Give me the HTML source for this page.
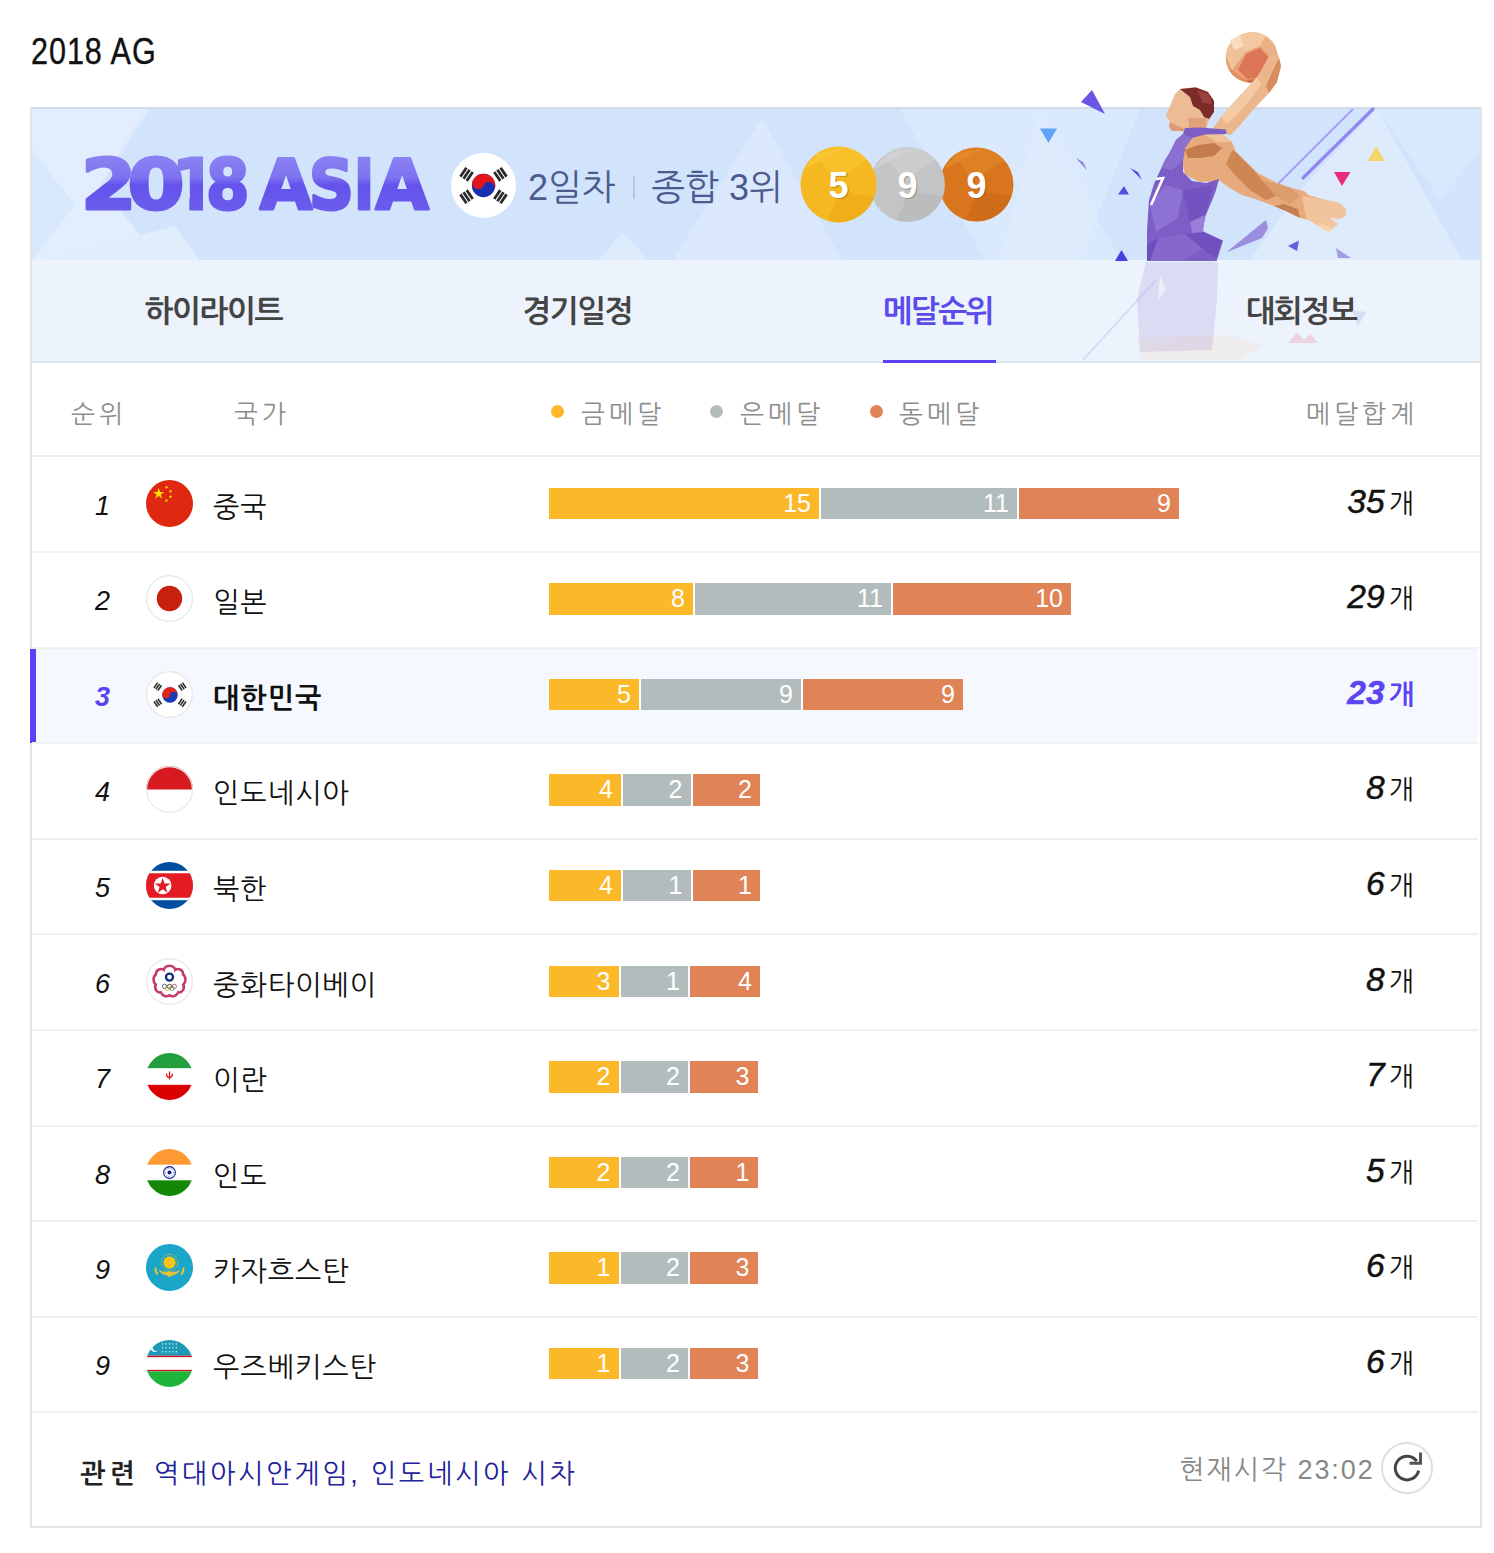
<!DOCTYPE html>
<html lang="ko"><head><meta charset="utf-8"><title>2018 AG</title>
<style>
*{margin:0;padding:0;box-sizing:border-box}
html,body{width:1494px;height:1553px;background:#fff;overflow:hidden}
body{position:relative;font-family:"Liberation Sans","NanumGothic","Noto Sans CJK KR",sans-serif;color:#000}
.abs{position:absolute}
#title{left:30.5px;top:29.5px;font-size:36px;line-height:44px;letter-spacing:1.1px;transform:scaleX(0.85);transform-origin:0 0;color:#111;-webkit-text-stroke:0.35px #111;font-family:"Liberation Sans",sans-serif}
#box{left:30px;top:107px;width:1452px;height:1421px;border:2px solid #e3e3e3;background:#fff}
#banner{left:32px;top:107px;width:1448px;height:153px;background:#d1e4fc;overflow:hidden;border-top:2px solid #cfdcec}
#tabs{left:32px;top:260px;width:1448px;height:103px;background:#edf3fc;border-bottom:2px solid #dfe5ee}
.tab{position:absolute;z-index:5;top:0;height:101px;line-height:104px;width:362px;text-align:center;font-family:"Liberation Sans","NanumGothic","Noto Sans CJK KR",sans-serif;font-weight:700;font-size:31px;color:#444;letter-spacing:-1.6px}
.tab.on{color:#5a4bea}
.tab.on:after{content:"";position:absolute;left:125.5px;width:113px;bottom:-2px;height:3.5px;background:#5a40f5}
.th{position:absolute;top:368px;height:93px;line-height:93px;font-family:"Liberation Sans","NanumGothic","Noto Sans CJK KR",sans-serif;font-size:25.5px;color:#8e8e8e;letter-spacing:4px}
.dot{display:block;width:13px;height:13px;border-radius:50%;top:405px}
#hline{left:32px;top:455px;width:1448px;height:2px;background:#ececec}
.row{position:absolute;left:32px;width:1446px;height:95.6px}
.row:after{content:"";position:absolute;z-index:1;left:0;right:0;bottom:-1px;height:2px;background:#f0f0f0}
.rk{position:absolute;left:0;width:78px;text-align:right;top:3px;height:93px;line-height:93px;font-family:"Liberation Sans",sans-serif;font-style:italic;font-size:27px;color:#111}
.flag{position:absolute;left:114px;top:23px;width:47px;height:47px}
.nm{position:absolute;left:181px;top:4px;height:93px;line-height:93px;font-family:"Liberation Sans","NanumGothic","Noto Sans CJK KR",sans-serif;font-size:28px;color:#111;letter-spacing:1px}
.bars{position:absolute;left:517px;top:31px;height:31.5px;display:flex}
.bars span{display:block;height:31.5px;text-align:right;padding-right:8px;font-family:"Liberation Sans",sans-serif;font-size:25px;line-height:31.5px;color:#fff}
.g{background:#fbb829}
.s{background:#b3bcbc;border-left:2px solid #fff}
.b{background:#e08458;border-left:2px solid #fff}
.tot{position:absolute;right:64px;top:-2px;height:93px;line-height:93px;font-size:33.5px;font-style:italic;font-family:"Liberation Sans",sans-serif;color:#111;-webkit-text-stroke:0.5px currentColor}
.tot i{-webkit-text-stroke:0}
.tot i{font-style:normal;font-size:27px;font-family:"Liberation Sans","NanumGothic","Noto Sans CJK KR",sans-serif;margin-left:4px}
.row.me{background:#f5f8fe}
.row.me .rk,.row.me .tot{color:#5a46f0;font-weight:700}
.row.me .nm{font-weight:700}
#mebar{left:30px;top:648.5px;width:5.5px;height:94px;background:#5a43f5}

#day{left:528px;top:163px;font-family:"Liberation Sans","NanumGothic","Noto Sans CJK KR",sans-serif;font-size:36px;line-height:50px;color:#4b5b8e;letter-spacing:0px}
#day .sep{display:inline-block;width:2.5px;height:23px;background:#b9c8dc;margin:0 16px 0 17px;vertical-align:middle;position:relative;top:-3px}
#foot{left:32px;top:1414px;width:1448px;height:112px;font-family:"Liberation Sans","NanumGothic","Noto Sans CJK KR",sans-serif}
#foot .rel{position:absolute;left:48px;top:4px;line-height:112px;font-size:27px;color:#22229a;letter-spacing:2.7px}
#foot .rel b{color:#222;margin-right:15px;letter-spacing:4px}
#foot .now{position:absolute;left:1147px;top:0;line-height:112px;font-size:27px;color:#888;letter-spacing:1.9px}
#foot .refresh{position:absolute;left:1349px;top:28px;width:52px;height:52px}
</style></head><body>
<div id="title" class="abs">2018 AG</div>
<div id="box" class="abs"></div>
<div id="banner" class="abs"></div>
<svg id="bgsvg" class="abs" style="left:0;top:0" width="1494" height="370" viewBox="0 0 1494 370">
<defs><clipPath id="bclip"><rect x="32" y="109" width="1448" height="151"/></clipPath>
<clipPath id="tclip"><rect x="32" y="260" width="1448" height="101"/></clipPath></defs>
<g clip-path="url(#bclip)">
<polygon points="32,109 150,109 100,185 160,260 32,260" fill="#e2eefd"/>
<polygon points="32,150 75,205 32,260" fill="#d8e8fc"/>
<polygon points="100,185 145,109 150,109 118,160" fill="#dbeafd"/>
<polygon points="46,260 175,226 200,260" fill="#e0edfd"/>
<polygon points="673,260 762,118 842,260" fill="#dce9fc"/>
<polygon points="598,260 623,232 648,260" fill="#deebfd"/>
<polygon points="900,109 1040,109 1120,260 985,260" fill="#dae9fc"/>
<polygon points="1040,109 1140,109 1080,260 1000,260" fill="#deebfd" opacity="0.7"/>
<polygon points="1377,109 1462,260 1250,260 1300,190" fill="#ddebfd"/>
<polygon points="1377,109 1480,109 1480,150 1440,200" fill="#d8e8fd"/>
<polygon points="1480,150 1480,260 1462,260 1440,200" fill="#d3e5fc"/>
</g>

</svg>
<svg id="logo" class="abs" style="left:0;top:0" width="460" height="240" viewBox="0 0 460 240"><defs><linearGradient id="lg" x1="0" y1="-55" x2="0" y2="1" gradientUnits="userSpaceOnUse"><stop offset="0" stop-color="#8c84f2"/><stop offset="0.42" stop-color="#7d72f0"/><stop offset="0.55" stop-color="#6453ec"/><stop offset="1" stop-color="#6b5cec"/></linearGradient><clipPath id="c1"><polygon points="176,150 203,150 203,215 189.4,215 189.4,188 176,188"/></clipPath></defs><g font-weight="700" fill="url(#lg)" stroke="url(#lg)" stroke-width="3.0" stroke-linejoin="round"><text transform="translate(80.93,209.00) scale(1.138,1)" font-family="DejaVu Sans, sans-serif" font-size="70">2</text><text transform="translate(127.62,209.00) scale(1.171,1)" font-family="DejaVu Sans, sans-serif" font-size="70">0</text><g clip-path="url(#c1)"><text transform="translate(171.50,209.00)" font-family="DejaVu Sans, sans-serif" font-size="70">1</text></g><text transform="translate(206.06,209.00) scale(0.892,1)" font-family="DejaVu Sans, sans-serif" font-size="70">8</text><text transform="translate(259.80,209.00) scale(0.970,1)" font-family="DejaVu Sans, sans-serif" font-size="70">A</text><text transform="translate(308.81,209.00) scale(0.897,1)" font-family="DejaVu Sans, sans-serif" font-size="70">S</text><text transform="translate(354.12,209.00) scale(0.774,1)" font-family="DejaVu Sans, sans-serif" font-size="70">I</text><text transform="translate(375.50,209.00) scale(0.983,1)" font-family="DejaVu Sans, sans-serif" font-size="70">A</text></g></svg>
<svg class="abs" style="left:451px;top:153px" width="65" height="65" viewBox="0 0 48 48"><circle cx="24" cy="24" r="24" fill="#fff"/><circle cx="24" cy="24" r="8.6" fill="#1a2fb0"/><path d="M16,20.5 A8.6,8.6 0 0 1 32,27.5 A4.3,4.3 0 0 0 24,24 A4.3,4.3 0 0 1 16,20.5Z" fill="#e0161c"/><g transform="translate(11.5,15.7) rotate(-56)"><rect x="-4.0" y="-3.8" width="8" height="2" fill="#2a2a2a"/><rect x="-4.0" y="-1.0" width="8" height="2" fill="#2a2a2a"/><rect x="-4.0" y="1.7999999999999998" width="8" height="2" fill="#2a2a2a"/></g><g transform="translate(36.5,15.7) rotate(56)"><rect x="-4.0" y="-3.8" width="8" height="2" fill="#2a2a2a"/><rect x="-4.0" y="-1.0" width="8" height="2" fill="#2a2a2a"/><rect x="-4.0" y="1.7999999999999998" width="8" height="2" fill="#2a2a2a"/></g><g transform="translate(11.5,32.3) rotate(56)"><rect x="-4.0" y="-3.8" width="8" height="2" fill="#2a2a2a"/><rect x="-4.0" y="-1.0" width="8" height="2" fill="#2a2a2a"/><rect x="-4.0" y="1.7999999999999998" width="8" height="2" fill="#2a2a2a"/></g><g transform="translate(36.5,32.3) rotate(-56)"><rect x="-4.0" y="-3.8" width="8" height="2" fill="#2a2a2a"/><rect x="-4.0" y="-1.0" width="8" height="2" fill="#2a2a2a"/><rect x="-4.0" y="1.7999999999999998" width="8" height="2" fill="#2a2a2a"/></g></svg>
<div id="day" class="abs">2일차<span class="sep"></span>종합 3위</div>
<svg class="abs" style="left:795px;top:141px" width="225" height="88" viewBox="795 141 225 88">
<g><circle cx="976.5" cy="184.5" r="37" fill="#d9761d"/><path d="M943.2,169.7 L983.9,148.24 L956.15,153.79 Z" fill="#e48a2c" opacity="0.8"/><path d="M954.3,154.9 A37,37 0 0 1 1004.25,160.07999999999998 L972.8,180.8 Z" fill="#e48a2c" opacity="0.5"/><path d="M1011.65,195.6 A37,37 0 0 1 965.4,219.65 L978.35,191.9 Z" fill="#c7661a" opacity="0.55"/><text x="977.5" y="198.5" text-anchor="middle" font-family="Liberation Sans, sans-serif" font-weight="700" font-size="36" fill="#5a3a10" opacity="0.35">9</text><text x="976.5" y="197.5" text-anchor="middle" font-family="Liberation Sans, sans-serif" font-weight="700" font-size="36" fill="#fff">9</text></g><g><circle cx="907.5" cy="184.5" r="37.5" fill="#c3c4c6"/><path d="M873.75,169.5 L915.0,147.75 L886.875,153.375 Z" fill="#d2d3d5" opacity="0.8"/><path d="M885.0,154.5 A37.5,37.5 0 0 1 935.625,159.75 L903.75,180.75 Z" fill="#d2d3d5" opacity="0.5"/><path d="M943.125,195.75 A37.5,37.5 0 0 1 896.25,220.125 L909.375,192.0 Z" fill="#b5b6b8" opacity="0.55"/><text x="908.5" y="198.5" text-anchor="middle" font-family="Liberation Sans, sans-serif" font-weight="700" font-size="36" fill="#5a3a10" opacity="0.35">9</text><text x="907.5" y="197.5" text-anchor="middle" font-family="Liberation Sans, sans-serif" font-weight="700" font-size="36" fill="#fff">9</text></g><g><circle cx="838.5" cy="184.5" r="38" fill="#f5b820"/><path d="M804.3,169.3 L846.1,147.26 L817.6,152.96 Z" fill="#fbc836" opacity="0.8"/><path d="M815.7,154.1 A38,38 0 0 1 867.0,159.42 L834.7,180.7 Z" fill="#fbc836" opacity="0.5"/><path d="M874.6,195.9 A38,38 0 0 1 827.1,220.6 L840.4,192.1 Z" fill="#eba815" opacity="0.55"/><text x="839.5" y="198.5" text-anchor="middle" font-family="Liberation Sans, sans-serif" font-weight="700" font-size="36" fill="#5a3a10" opacity="0.35">5</text><text x="838.5" y="197.5" text-anchor="middle" font-family="Liberation Sans, sans-serif" font-weight="700" font-size="36" fill="#fff">5</text></g>
</svg>

<div id="tabs" class="abs">
 <div class="tab" style="left:0">하이라이트</div>
 <div class="tab" style="left:364px">경기일정</div>
 <div class="tab on" style="left:725px">메달순위</div>
 <div class="tab" style="left:1088px">대회정보</div>
</div>
<svg id="player" class="abs" style="left:0;top:0" width="1494" height="370" viewBox="0 0 1494 370">

<g clip-path="url(#tclip)">
 <polygon points="1146,262 1218,262 1217,300 1213,340 1212,350 1140,352 1137,300" fill="#7c68d0" opacity="0.17"/>
 <polygon points="1160,275 1166,290 1158,300" fill="#fff" opacity="0.5"/>
 <polygon points="1137,338 1230,335 1262,346 1240,360 1140,360" fill="#f0c8a0" opacity="0.16"/>
 <polygon points="1288,343 1297,332 1304,340 1310,334 1318,343" fill="#f07090" opacity="0.25"/>
 <polygon points="1352,310 1366,312 1358,326" fill="#a098e0" opacity="0.25"/>
 <line x1="1083" y1="360" x2="1156" y2="280" stroke="#b0a8f0" stroke-width="2" opacity="0.3"/>
</g>
<!-- lines -->
<line x1="1353" y1="109" x2="1270" y2="192" stroke="#a89cf4" stroke-width="2"/>
<line x1="1373" y1="109" x2="1303" y2="178" stroke="#9385f2" stroke-width="3.2" stroke-linecap="round"/>
<!-- triangles -->
<polygon points="1081,102 1092,90 1105,114" fill="#6a55e6"/>
<polygon points="1040,128.5 1057,128.5 1048.5,143" fill="#5ea6f5"/>
<polygon points="1367.5,161 1385,161 1376,146.5" fill="#f3d66a"/>
<polygon points="1334,172 1350.5,172 1342,186" fill="#ef2a78"/>
<polygon points="1076,158 1087,170.5 1083,162" fill="#8c86d8"/>
<polygon points="1130,168 1142,180 1138,172" fill="#5a4be0"/>
<polygon points="1118,194.5 1129,194.5 1124,186" fill="#5a4be0"/>
<polygon points="1115,261 1128,261 1121.5,250" fill="#4a3ee0"/>
<polygon points="1288,246 1299,240.5 1297,251" fill="#6a5ae0"/>
<polygon points="1336,248 1351,258 1338,258" fill="#a59ce6"/>
<polygon points="1226,252.5 1266,220 1268,228 1262,238" fill="#9b8ddf"/>
<!-- ball -->
<g>
 <ellipse cx="1251.7" cy="57.7" rx="26" ry="25.2" fill="#e9a274"/>
 <path d="M1226,56 A26,25.2 0 0 1 1240,35 L1246,52 L1232,70 Z" fill="#efc29a"/>
 <path d="M1240,35 A26,25.2 0 0 1 1266,36 L1260,46 L1246,52 Z" fill="#f3c7a2"/>
 <path d="M1230,40 L1240,35 L1244,46 L1234,50 Z" fill="#f8dcc0"/>
 <path d="M1246,54 L1260,48 L1271,60 L1263,77 L1247,79 L1238,70 Z" fill="#dc7656"/>
 <path d="M1266,36 A26,25.2 0 0 1 1277.5,56 L1272,58 L1260,46 Z" fill="#eab086"/>
 <path d="M1232,70 L1246,80 L1250,82.8 A26,25.2 0 0 1 1228,68 Z" fill="#e09060"/>
 <path d="M1246,80 L1264,78 A26,25.2 0 0 1 1250,82.8 Z" fill="#cf6848"/>
</g>
<!-- raised arm -->
<polygon points="1211,131 1221,117 1235,101 1249,86 1257,77 1263,67 1269,56 1278,54 1281,66 1277,82 1269,93 1253,110 1241,124 1231,135" fill="#ebb68c"/>
<polygon points="1221,117 1235,101 1249,86 1257,77 1261,84 1250,100 1238,114 1226,124" fill="#f4caa4"/>
<polygon points="1269,93 1277,82 1281,66 1279,58 1273,70 1266,86" fill="#d68e60"/>
<!-- head -->
<polygon points="1175,94 1180,89 1195,87 1208,92 1214,101 1214,112 1209,120 1206,130 1188,132 1172,130 1169,127 1170,122 1166,116 1167,112 1170,106" fill="#edbb96"/>
<polygon points="1180,89 1196,87.5 1208,92 1214,101 1214,112 1209,119 1204,117 1200,110 1193,106 1190,97 1185,93" fill="#7c2b2b"/>
<polygon points="1197,90 1209,94 1212,104 1203,103" fill="#9b403e"/>
<polygon points="1170,122 1178,126 1190,131 1172,131 1169,127" fill="#d99a74"/>
<polygon points="1188,118 1206,118 1206,130 1190,132" fill="#dfa27a"/>
<!-- extended arm + shoulder -->
<polygon points="1183,136 1205,133 1222,134 1232,142 1236,152 1248,164 1258,173 1275,182 1290,187.5 1302,190.5 1305,191.5 1308,195 1322,199 1338,203 1340,210 1330,217 1320,222 1300,218 1288,212 1274,206 1255,199 1242,195 1228,187 1220,181 1200,182 1185,175 1182,160" fill="#e6aa7c"/>
<polygon points="1185,150 1198,145 1214,143 1222,148 1214,156 1200,158 1188,158" fill="#c47c4c"/>
<polygon points="1232,150 1236,152 1250,166 1262,180 1276,196 1266,200 1250,190 1236,176 1226,164" fill="#cd8654"/>
<polygon points="1262,180 1290,188 1300,196 1290,204 1276,196" fill="#dc9c6c"/>
<polygon points="1274,206 1288,212 1300,218 1298,209 1284,204" fill="#c68050"/>
<polygon points="1302,196 1322,199 1340,203 1346,209 1346,216 1340,219 1330,218 1338,224 1331,230 1318,226 1306,218" fill="#f2c49c"/>
<polygon points="1318,222 1332,228 1330,232 1322,229" fill="#f8d2a8"/>
<polygon points="1204,134 1222,134 1232,142 1216,142" fill="#f0c29c"/>
<!-- jersey -->
<polygon points="1185,128 1200,127.5 1226,129.5 1226.5,134 1205,134.5 1192,138 1185,148 1183,160 1183,172 1192,181 1206,183 1219,179 1216,190 1213.5,197 1208,210 1205.5,216 1202.5,231 1223,240.5 1216.7,261 1147,261 1147,230 1149,200 1154,184 1159,173 1165,160 1170,152 1176,140 1183,134" fill="#7d5ec6"/>
<polygon points="1183,134 1192,138 1185,148 1183,160 1172,170 1162,168 1170,152 1176,140" fill="#8c70d0"/>
<polygon points="1150,205 1165,185 1183,190 1178,218 1156,232" fill="#8d71d3"/>
<polygon points="1183,190 1213,186 1205,215 1190,222" fill="#7253c0"/>
<polygon points="1190,222 1205,215 1203,232 1194,242" fill="#9a7ed9"/>
<polygon points="1158,238 1185,234 1203,249 1180,261 1150,261" fill="#8668cd"/>
<polygon points="1185,234 1203,232 1222,241 1216,258 1203,249" fill="#7050bf"/>
<polygon points="1147,245 1158,238 1150,261 1147,261" fill="#6c4fbd"/>
<polyline points="1156,179 1163,178 1151,205" fill="none" stroke="#fff" stroke-width="2.6"/>

</svg>
<div class="th" style="left:71px">순위</div>
<div class="th" style="left:234px">국가</div>
<span class="dot abs" style="left:551px;background:#fbb829"></span><div class="th" style="left:581px">금메달</div>
<span class="dot abs" style="left:710px;background:#b3bcbc"></span><div class="th" style="left:740px">은메달</div>
<span class="dot abs" style="left:870px;background:#e08458"></span><div class="th" style="left:899px">동메달</div>
<div class="th" style="left:1306px">메달합계</div>
<div id="hline" class="abs"></div>
<div id="rows"><svg width="0" height="0" style="position:absolute"><defs><clipPath id="cc"><circle cx="24" cy="24" r="24"/></clipPath></defs></svg><div class="row" style="top:456.5px"><div class="rk">1</div><svg class="flag" viewBox="0 0 48 48"><defs></defs><g clip-path="url(#cc)"><rect width="48" height="48" fill="#de2910"/><polygon points="13.00,8.00 14.35,12.15 18.71,12.15 15.18,14.71 16.53,18.85 13.00,16.29 9.47,18.85 10.82,14.71 7.29,12.15 11.65,12.15" fill="#ffde00"/><polygon points="22.00,5.77 21.70,7.19 22.96,7.92 21.51,8.07 21.21,9.49 20.62,8.16 19.17,8.31 20.25,7.34 19.66,6.01 20.92,6.74" fill="#ffde00"/><polygon points="26.53,10.21 25.76,11.45 26.70,12.56 25.29,12.21 24.52,13.44 24.41,11.99 23.00,11.64 24.35,11.10 24.25,9.65 25.18,10.76" fill="#ffde00"/><polygon points="25.00,15.00 25.45,16.38 26.90,16.38 25.73,17.24 26.18,18.62 25.00,17.76 23.82,18.62 24.27,17.24 23.10,16.38 24.55,16.38" fill="#ffde00"/><polygon points="21.68,19.12 21.63,20.57 23.00,21.07 21.60,21.47 21.55,22.92 20.74,21.72 19.34,22.12 20.24,20.97 19.42,19.77 20.79,20.27" fill="#ffde00"/></g></svg><div class="nm">중국</div><div class="bars"><span class="g" style="width:270.0px">15</span><span class="s" style="width:198.0px">11</span><span class="b" style="width:162.0px">9</span></div><div class="tot">35<i>개</i></div></div>
<div class="row" style="top:552.1px"><div class="rk">2</div><svg class="flag" viewBox="0 0 48 48"><defs></defs><g clip-path="url(#cc)"><rect width="48" height="48" fill="#fff"/><circle cx="24" cy="24" r="13" fill="#c8200e"/></g><circle cx="24" cy="24" r="23.4" fill="none" stroke="#e6e6e6" stroke-width="1.2"/></svg><div class="nm">일본</div><div class="bars"><span class="g" style="width:144.0px">8</span><span class="s" style="width:198.0px">11</span><span class="b" style="width:180.0px">10</span></div><div class="tot">29<i>개</i></div></div>
<div class="row me" style="top:647.7px"><div class="rk">3</div><svg class="flag" viewBox="0 0 48 48"><defs></defs><g clip-path="url(#cc)"><rect width="48" height="48" fill="#fff"/><circle cx="24.5" cy="24.5" r="7.9" fill="#1a3ab8"/><path d="M16.7,23 A7.9,7.9 0 0 1 32.3,26 A3.95,3.95 0 0 0 24.5,24.5 A3.95,3.95 0 0 1 16.7,23Z" fill="#e2231a"/><g transform="translate(12,16) rotate(-56)"><rect x="-3.3" y="-3.3" width="6.6" height="1.7" fill="#333"/><rect x="-3.3" y="-0.8999999999999999" width="6.6" height="1.7" fill="#333"/><rect x="-3.3" y="1.5" width="6.6" height="1.7" fill="#333"/></g><g transform="translate(37,16) rotate(56)"><rect x="-3.3" y="-3.3" width="6.6" height="1.7" fill="#333"/><rect x="-3.3" y="-0.8999999999999999" width="6.6" height="1.7" fill="#333"/><rect x="-3.3" y="1.5" width="6.6" height="1.7" fill="#333"/></g><g transform="translate(12,32.5) rotate(56)"><rect x="-3.3" y="-3.3" width="6.6" height="1.7" fill="#333"/><rect x="-3.3" y="-0.8999999999999999" width="6.6" height="1.7" fill="#333"/><rect x="-3.3" y="1.5" width="6.6" height="1.7" fill="#333"/></g><g transform="translate(37,32.5) rotate(-56)"><rect x="-3.3" y="-3.3" width="6.6" height="1.7" fill="#333"/><rect x="-3.3" y="-0.8999999999999999" width="6.6" height="1.7" fill="#333"/><rect x="-3.3" y="1.5" width="6.6" height="1.7" fill="#333"/></g></g><circle cx="24" cy="24" r="23.4" fill="none" stroke="#e6e6e6" stroke-width="1.2"/></svg><div class="nm">대한민국</div><div class="bars"><span class="g" style="width:90.0px">5</span><span class="s" style="width:162.0px">9</span><span class="b" style="width:162.0px">9</span></div><div class="tot">23<i>개</i></div></div>
<div class="row" style="top:743.3px"><div class="rk">4</div><svg class="flag" viewBox="0 0 48 48"><defs></defs><g clip-path="url(#cc)"><rect width="48" height="48" fill="#fff"/><rect width="48" height="24" fill="#d71920"/></g><circle cx="24" cy="24" r="23.4" fill="none" stroke="#e6e6e6" stroke-width="1.2"/></svg><div class="nm">인도네시아</div><div class="bars"><span class="g" style="width:72.0px">4</span><span class="s" style="width:69.5px">2</span><span class="b" style="width:69.5px">2</span></div><div class="tot">8<i>개</i></div></div>
<div class="row" style="top:838.9px"><div class="rk">5</div><svg class="flag" viewBox="0 0 48 48"><defs></defs><g clip-path="url(#cc)"><rect width="48" height="48" fill="#024fa2"/><rect y="9" width="48" height="30" fill="#fff"/><rect y="11.5" width="48" height="25" fill="#e41b23"/><circle cx="17" cy="24" r="9" fill="#fff"/><polygon points="17.00,16.00 18.91,21.87 25.08,21.87 20.09,25.50 22.00,31.38 17.00,27.75 12.00,31.38 13.91,25.50 8.92,21.87 15.09,21.87" fill="#e41b23"/></g></svg><div class="nm">북한</div><div class="bars"><span class="g" style="width:72.0px">4</span><span class="s" style="width:69.5px">1</span><span class="b" style="width:69.5px">1</span></div><div class="tot">6<i>개</i></div></div>
<div class="row" style="top:934.5px"><div class="rk">6</div><svg class="flag" viewBox="0 0 48 48"><defs></defs><g clip-path="url(#cc)"><rect width="48" height="48" fill="#fff"/><path d="M24,8 C28,8 30,11 30,12 C33,10 38,12 38,17 C41,19 41,25 38,27 C40,31 37,36 33,35 C31,39 27,40 24,38 C21,40 17,39 15,35 C11,36 8,31 10,27 C7,25 7,19 10,17 C10,12 15,10 18,12 C18,11 20,8 24,8Z" fill="none" stroke="#c23c66" stroke-width="2.6"/><circle cx="24" cy="19.5" r="3.6" fill="none" stroke="#1a2f80" stroke-width="2.4"/><circle cx="19" cy="29" r="2.2" fill="none" stroke="#1d4fa0" stroke-width="0.8"/><circle cx="24" cy="29" r="2.2" fill="none" stroke="#222" stroke-width="0.8"/><circle cx="29" cy="29" r="2.2" fill="none" stroke="#c8315a" stroke-width="0.8"/><circle cx="21.5" cy="31" r="2.2" fill="none" stroke="#e8b000" stroke-width="0.8"/><circle cx="26.5" cy="31" r="2.2" fill="none" stroke="#2a9a3a" stroke-width="0.8"/></g><circle cx="24" cy="24" r="23.4" fill="none" stroke="#e6e6e6" stroke-width="1.2"/></svg><div class="nm">중화타이베이</div><div class="bars"><span class="g" style="width:69.5px">3</span><span class="s" style="width:69.5px">1</span><span class="b" style="width:72.0px">4</span></div><div class="tot">8<i>개</i></div></div>
<div class="row" style="top:1030.1px"><div class="rk">7</div><svg class="flag" viewBox="0 0 48 48"><defs></defs><g clip-path="url(#cc)"><rect width="48" height="48" fill="#fff"/><rect width="48" height="15.5" fill="#239f40"/><rect y="32.5" width="48" height="16" fill="#da0000"/><path d="M21,21 q0,4 3,4 q3,0 3,-4 M24,19 v8" fill="none" stroke="#da0000" stroke-width="1.2"/></g></svg><div class="nm">이란</div><div class="bars"><span class="g" style="width:69.5px">2</span><span class="s" style="width:69.5px">2</span><span class="b" style="width:69.5px">3</span></div><div class="tot">7<i>개</i></div></div>
<div class="row" style="top:1125.7px"><div class="rk">8</div><svg class="flag" viewBox="0 0 48 48"><defs></defs><g clip-path="url(#cc)"><rect width="48" height="48" fill="#fff"/><rect width="48" height="16" fill="#ff9933"/><rect y="32" width="48" height="16" fill="#138808"/><circle cx="24" cy="24" r="6" fill="none" stroke="#0a1f8f" stroke-width="1.1"/><circle cx="24" cy="24" r="2" fill="#0a1f8f"/><circle cx="24" cy="24" r="4.2" fill="none" stroke="#0a1f8f" stroke-width="0.6" stroke-dasharray="0.6 0.8"/></g></svg><div class="nm">인도</div><div class="bars"><span class="g" style="width:69.5px">2</span><span class="s" style="width:69.5px">2</span><span class="b" style="width:69.5px">1</span></div><div class="tot">5<i>개</i></div></div>
<div class="row" style="top:1221.3px"><div class="rk">9</div><svg class="flag" viewBox="0 0 48 48"><defs></defs><g clip-path="url(#cc)"><rect width="48" height="48" fill="#1ba6c9"/><circle cx="24" cy="19" r="8.5" fill="none" stroke="#f2c21a" stroke-width="1" stroke-dasharray="1 1"/><circle cx="24" cy="19" r="6.2" fill="#fdc410"/><path d="M13,26 Q18,30 24,27.5 Q30,30 35,26 Q33,31 27,32 L24,34 L21,32 Q15,31 13,26Z" fill="#e7c03a"/><path d="M10,24 q-1,4 2,7 M38,24 q1,4 -2,7" fill="none" stroke="#f0c530" stroke-width="2"/></g></svg><div class="nm">카자흐스탄</div><div class="bars"><span class="g" style="width:69.5px">1</span><span class="s" style="width:69.5px">2</span><span class="b" style="width:69.5px">3</span></div><div class="tot">6<i>개</i></div></div>
<div class="row" style="top:1316.9px"><div class="rk">9</div><svg class="flag" viewBox="0 0 48 48"><defs></defs><g clip-path="url(#cc)"><rect width="48" height="48" fill="#fff"/><rect width="48" height="16" fill="#1d9ab8"/><rect y="16" width="48" height="1.5" fill="#ce1126"/><rect y="30.5" width="48" height="1.5" fill="#ce1126"/><rect y="32" width="48" height="16" fill="#1eb53a"/><circle cx="9" cy="8" r="4.2" fill="#fff"/><circle cx="10.8" cy="7.2" r="4" fill="#1d9ab8"/><circle cx="17" cy="4" r="0.7" fill="#fff"/><circle cx="20.5" cy="4" r="0.7" fill="#fff"/><circle cx="24" cy="4" r="0.7" fill="#fff"/><circle cx="27.5" cy="4" r="0.7" fill="#fff"/><circle cx="31" cy="4" r="0.7" fill="#fff"/><circle cx="17" cy="8" r="0.7" fill="#fff"/><circle cx="20.5" cy="8" r="0.7" fill="#fff"/><circle cx="24" cy="8" r="0.7" fill="#fff"/><circle cx="27.5" cy="8" r="0.7" fill="#fff"/><circle cx="31" cy="8" r="0.7" fill="#fff"/><circle cx="17" cy="12" r="0.7" fill="#fff"/><circle cx="20.5" cy="12" r="0.7" fill="#fff"/><circle cx="24" cy="12" r="0.7" fill="#fff"/><circle cx="27.5" cy="12" r="0.7" fill="#fff"/><circle cx="31" cy="12" r="0.7" fill="#fff"/></g></svg><div class="nm">우즈베키스탄</div><div class="bars"><span class="g" style="width:69.5px">1</span><span class="s" style="width:69.5px">2</span><span class="b" style="width:69.5px">3</span></div><div class="tot">6<i>개</i></div></div></div>
<div id="mebar" class="abs"></div>
<div id="foot" class="abs">
 <div class="rel"><b>관련</b><a>역대아시안게임</a>, <a>인도네시아 시차</a></div>
 <div class="now">현재시각 23:02</div>
 <div class="refresh"><svg width="52" height="52" viewBox="0 0 52 52"><circle cx="26" cy="26" r="25" fill="#fff" stroke="#e0e0e0" stroke-width="2"/><path d="M35.7,19.2 A11.8,11.8 0 1 0 37.6,28.6" fill="none" stroke="#464646" stroke-width="3"/><path d="M28.5,21.2 H39.5 V10.5" fill="none" stroke="#555" stroke-width="3"/></svg></div>
</div>
</body></html>
